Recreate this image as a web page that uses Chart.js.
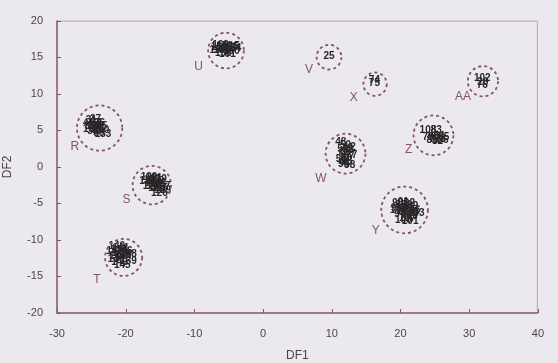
<!DOCTYPE html>
<html>
<head>
<meta charset="utf-8">
<script src="https://cdn.jsdelivr.net/npm/chart.js@4.4.1/dist/chart.umd.min.js"></script>
<style>
  html, body { margin: 0; padding: 0; background: #ebe9ed; }
  #wrap { width: 558px; height: 363px; }
</style>
</head>
<body>
<div id="wrap"><canvas id="df-chart" width="558" height="363"></canvas></div>
<script>
// group names, centroids (DF1, DF2), circle radius in DF1 units, letter position
const groupNames = ["R", "U", "S", "T", "V", "W", "X", "Y", "Z", "AA"];
const groupCenterX = [-23.8, -5.4, -16.2, -20.3, 9.6, 12.0, 16.3, 20.6, 24.8, 32.0];
const groupCenterY = [5.3, 15.9, -2.5, -12.4, 15.0, 1.8, 11.3, -5.9, 4.3, 11.7];
const groupRadius = [3.3, 2.6, 2.8, 2.7, 1.8, 2.9, 1.7, 3.4, 2.9, 2.2];
const groupLabelX = [-27.4, -9.4, -19.9, -24.2, 6.7, 8.4, 13.2, 16.4, 21.2, 29.1];
const groupLabelY = [2.8, 13.7, -4.5, -15.5, 13.3, -1.6, 9.5, -8.8, 2.4, 9.6];

// sample scores: [DF1, DF2, sample number]
const samplesR = [
  [-25.0, 6.3, "31"], [-24.4, 6.5, "37"], [-23.8, 6.0, "36"], [-25.2, 5.6, "33"],
  [-24.6, 5.4, "40"], [-24.0, 5.2, "32"], [-23.5, 5.5, "35"], [-24.8, 4.9, "38"],
  [-23.9, 4.6, "39"], [-23.3, 4.4, "133"], [-24.3, 5.9, "34"], [-25.4, 6.0, "41"],
  [-24.7, 6.0, "42"], [-24.2, 4.9, "43"], [-23.6, 5.0, "130"], [-25.0, 5.2, "131"],
  [-24.4, 5.6, "132"],
];
const samplesU = [
  [-6.4, 16.4, "150"], [-5.6, 16.5, "152"], [-4.8, 16.4, "155"], [-6.0, 16.0, "151"],
  [-5.2, 16.1, "153"], [-4.4, 16.2, "154"], [-5.2, 15.4, "161"], [-6.6, 15.9, "157"],
  [-3.8, 16.5, "5"], [-5.8, 15.6, "158"], [-5.6, 16.2, "159"], [-4.6, 15.8, "160"],
  [-6.2, 16.6, "162"],
];
const samplesS = [
  [-16.6, -1.4, "120"], [-15.9, -1.5, "121"], [-15.2, -1.7, "119"], [-16.8, -2.0, "122"],
  [-16.0, -2.2, "124"], [-15.3, -2.4, "125"], [-14.7, -2.6, "127"], [-16.3, -2.7, "123"],
  [-15.5, -3.0, "128"], [-15.1, -3.6, "126"], [-14.6, -3.2, "129"], [-16.2, -1.8, "117"],
  [-15.6, -2.0, "118"], [-15.8, -2.6, "116"], [-15.0, -2.9, "115"],
];
const samplesT = [
  [-21.3, -10.9, "140"], [-20.7, -11.1, "141"], [-21.6, -11.6, "142"], [-20.9, -11.8, "143"],
  [-20.2, -11.6, "146"], [-21.2, -12.3, "144"], [-20.6, -12.5, "147"], [-19.6, -12.0, "148"],
  [-20.9, -13.0, "149"], [-20.5, -13.4, "145"], [-19.6, -12.9, "139"], [-21.0, -11.4, "137"],
  [-20.4, -12.1, "138"], [-21.4, -12.6, "136"],
];
const samplesV = [[9.6, 15.1, "25"]];
const samplesW = [
  [11.3, 3.3, "48"], [12.0, 3.0, "50"], [13.1, 2.7, "2"], [11.6, 2.4, "52"],
  [12.4, 2.2, "53"], [11.8, 1.7, "54"], [12.5, 1.4, "57"], [11.4, 1.1, "51"],
  [12.2, 0.8, "55"], [11.7, 0.3, "56"], [12.6, 0.2, "58"], [13.3, 1.6, "7"],
  [12.0, 2.0, "59"], [12.1, 1.2, "60"], [11.9, 0.6, "61"], [12.3, 2.6, "49"],
];
const samplesX = [[16.2, 11.9, "74"], [16.2, 11.4, "75"]];
const samplesY = [
  [19.6, -5.0, "90"], [20.4, -4.9, "91"], [21.3, -5.0, "92"], [19.4, -5.7, "93"],
  [20.3, -5.8, "94"], [21.2, -5.7, "95"], [22.1, -5.9, "96"], [19.9, -6.5, "97"],
  [20.8, -6.6, "98"], [21.7, -6.7, "99"], [20.4, -7.3, "100"], [21.4, -7.4, "101"],
  [22.3, -6.4, "103"], [20.0, -5.3, "87"], [20.9, -5.3, "88"], [21.8, -5.4, "89"],
  [20.6, -6.1, "104"], [21.5, -6.2, "105"], [19.7, -6.0, "106"], [21.0, -7.0, "107"],
];
const samplesZ = [
  [24.0, 5.0, "108"], [25.2, 5.0, "83"], [24.0, 4.0, "79"], [24.8, 4.1, "80"],
  [25.6, 4.2, "84"], [26.3, 4.0, "85"], [24.6, 3.6, "81"], [25.4, 3.5, "82"],
  [26.2, 3.6, "86"], [25.0, 3.8, "77"], [25.8, 3.8, "78"],
];
const samplesAA = [[31.9, 12.1, "102"], [32.0, 11.6, "20"], [31.9, 11.1, "76"]];

const xTicks = [-30, -20, -10, 0, 10, 20, 30, 40];
const yTicks = [-20, -15, -10, -5, 0, 5, 10, 15, 20];

const allSamples = [
  samplesR, samplesU, samplesS, samplesT, samplesV,
  samplesW, samplesX, samplesY, samplesZ, samplesAA,
];

const MAROON = "#86506f";
const TEXT = "#4a4448";

const datasets = allSamples.map((samples, i) => ({
  label: groupNames[i],
  data: samples.map((s) => ({ x: s[0], y: s[1], n: s[2] })),
  pointRadius: 0,
  pointHoverRadius: 0,
}));

const annotatePlugin = {
  id: "annotate",
  afterDatasetsDraw(chart) {
    const ctx = chart.ctx;
    const xs = chart.scales.x;
    const ys = chart.scales.y;
    const area = chart.chartArea;

    // frame
    ctx.save();
    ctx.lineWidth = 1;
    ctx.strokeStyle = "#b9a5b2";
    ctx.beginPath();
    ctx.moveTo(area.left, area.top + 0.5);
    ctx.lineTo(area.right - 0.5, area.top + 0.5);
    ctx.lineTo(area.right - 0.5, area.bottom);
    ctx.stroke();
    ctx.strokeStyle = MAROON;
    ctx.lineWidth = 1.5;
    ctx.beginPath();
    ctx.moveTo(area.left, area.top);
    ctx.lineTo(area.left, area.bottom);
    ctx.lineTo(area.right, area.bottom);
    ctx.stroke();

    // inward ticks
    ctx.lineWidth = 1;
    xTicks.forEach((v) => {
      const px = Math.round(xs.getPixelForValue(v)) + 0.5;
      ctx.beginPath();
      ctx.moveTo(px, area.bottom);
      ctx.lineTo(px, area.bottom - 4);
      ctx.stroke();
    });
    yTicks.forEach((v) => {
      const py = Math.round(ys.getPixelForValue(v)) + 0.5;
      ctx.beginPath();
      ctx.moveTo(area.left, py);
      ctx.lineTo(area.left + 4, py);
      ctx.stroke();
    });

    // sample numbers
    ctx.font = "bold 10px 'Liberation Sans', Arial, sans-serif";
    ctx.fillStyle = "#2a2629";
    ctx.textAlign = "center";
    ctx.textBaseline = "middle";
    chart.data.datasets.forEach((ds) => {
      ds.data.forEach((p) => {
        ctx.fillText(p.n, xs.getPixelForValue(p.x), ys.getPixelForValue(p.y));
      });
    });

    // dashed group circles and letters
    const unit = xs.getPixelForValue(1) - xs.getPixelForValue(0);
    ctx.strokeStyle = MAROON;
    ctx.lineWidth = 1.8;
    ctx.setLineDash([3, 3]);
    groupNames.forEach((name, i) => {
      ctx.beginPath();
      ctx.arc(
        xs.getPixelForValue(groupCenterX[i]),
        ys.getPixelForValue(groupCenterY[i]),
        groupRadius[i] * unit,
        0,
        Math.PI * 2
      );
      ctx.stroke();
    });
    ctx.setLineDash([]);
    ctx.font = "12px 'Liberation Sans', Arial, sans-serif";
    ctx.fillStyle = MAROON;
    groupNames.forEach((name, i) => {
      ctx.fillText(
        name,
        xs.getPixelForValue(groupLabelX[i]),
        ys.getPixelForValue(groupLabelY[i])
      );
    });
    ctx.restore();
  },
};

new Chart(document.getElementById("df-chart"), {
  type: "scatter",
  data: { datasets: datasets },
  options: {
    responsive: false,
    animation: false,
    events: [],
    layout: { padding: { top: 9, right: 18, left: 0, bottom: 0 } },
    plugins: {
      legend: { display: false },
      tooltip: { enabled: false },
    },
    scales: {
      x: {
        type: "linear",
        min: -30,
        max: 40,
        afterFit: (scale) => {
          scale.height = 50;
        },
        afterBuildTicks: (scale) => {
          scale.ticks = xTicks.map((v) => ({ value: v }));
        },
        grid: { display: false, drawTicks: false },
        border: { display: false },
        ticks: {
          color: TEXT,
          padding: 14,
          font: { family: "'Liberation Sans', Arial, sans-serif", size: 11 },
        },
        title: {
          display: true,
          text: "DF1",
          color: TEXT,
          padding: { top: 2, bottom: 0 },
          font: { family: "'Liberation Sans', Arial, sans-serif", size: 12 },
        },
      },
      y: {
        type: "linear",
        min: -20,
        max: 20,
        afterFit: (scale) => {
          scale.width = 57;
        },
        afterBuildTicks: (scale) => {
          scale.ticks = yTicks.map((v) => ({ value: v }));
        },
        grid: { display: false, drawTicks: false },
        border: { display: false },
        ticks: {
          color: TEXT,
          padding: 14,
          font: { family: "'Liberation Sans', Arial, sans-serif", size: 11 },
        },
        title: {
          display: true,
          text: "DF2",
          color: TEXT,
          padding: { top: 0, bottom: 0 },
          font: { family: "'Liberation Sans', Arial, sans-serif", size: 12 },
        },
      },
    },
  },
  plugins: [annotatePlugin],
});
</script>
</body>
</html>
